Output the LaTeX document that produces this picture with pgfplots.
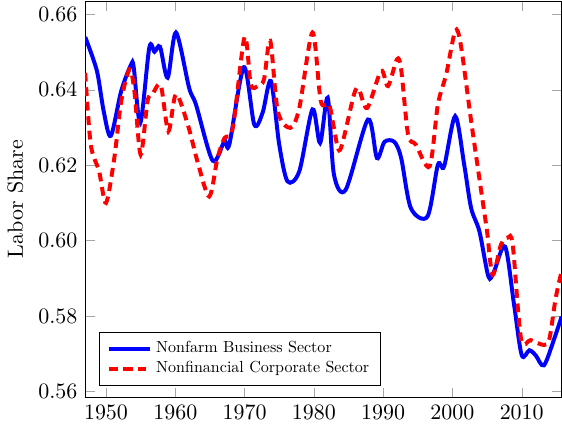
\documentclass[border=0pt]{standalone}
\usepackage{graphicx}
\usepackage{pgfplots}
\pgfplotsset{compat=1.18}

\begin{document}
\begin{tikzpicture}
	\begin{axis}[
			scale only axis,
			width  = 216.8pt,
			height = 180.3pt,
			xmin=1947, xmax=2015.75,
			ymin=0.5584, ymax=0.6635,
			xtick={1950,1960,...,2010},
			ytick={0.56,0.58,...,0.661},
			xticklabel style={/pgf/number format/1000 sep={}},
			yticklabel style={/pgf/number format/fixed,/pgf/number format/fixed zerofill,/pgf/number format/precision=2},
			tick style={gray!70},
			ylabel={Labor Share},
			legend style={at={(0.03,0.03)},anchor=south west,draw=black,row sep=-1.5pt},
			legend image post style={scale=1.1},
			legend cell align=left,
			]
			\addplot[blue,line width=1.8pt,smooth] coordinates {
					(1947.0,0.6540)
					(1948.0,0.6490)
					(1948.8,0.6441)
					(1949.7,0.6340)
					(1950.7,0.6278)
					(1952.2,0.6397)
					(1953.6,0.6466)
					(1954.0,0.6460)
					(1954.95,0.6312)
					(1956.25,0.6512)
					(1957.0,0.6501)
					(1957.8,0.6514)
					(1958.9,0.6432)
					(1960.1,0.6552)
					(1962.0,0.6405)
					(1963.0,0.6360)
					(1965.4,0.6212)
					(1967.1,0.6264)
					(1967.8,0.6255)
					(1969.9,0.6460)
					(1971.4,0.6308)
					(1972.6,0.6339)
					(1973.8,0.6423)
					(1975.0,0.6255)
					(1976.2,0.6157)
					(1977.9,0.6184)
					(1979.8,0.6348)
					(1980.9,0.6259)
					(1982.0,0.6379)
					(1982.9,0.6175)
					(1984.6,0.6135)
					(1987.8,0.6321)
					(1989.1,0.6219)
					(1990.2,0.6262)
					(1991.6,0.6262)
					(1992.6,0.6219)
					(1994.0,0.6086)
					(1996.4,0.6064)
					(1997.9,0.6201)
					(1998.8,0.6197)
					(2000.4,0.6330)
					(2001.7,0.6201)
					(2002.7,0.6086)
					(2003.9,0.6024)
					(2005.2,0.5904)
					(2006.0,0.5918)
					(2007.6,0.5984)
					(2008.9,0.5829)
					(2010.0,0.5696)
					(2011.1,0.5709)
					(2012.0,0.5696)
					(2013.2,0.5669)
					(2014.7,0.5740)
					(2015.75,0.5798)
			};
			\addlegendentry{\scalebox{0.73}{Nonfarm Business Sector}}
			\addplot[red,line width=1.8pt,smooth,dash pattern=on 4pt off 2.6pt] coordinates {
					(1947.0,0.6445)
					(1947.8,0.6255)
					(1949.0,0.6184)
					(1950.0,0.6100)
					(1951.2,0.6219)
					(1952.2,0.6370)
					(1953.4,0.6454)
					(1954.1,0.6396)
					(1955.0,0.6228)
					(1956.0,0.6370)
					(1956.7,0.6388)
					(1957.9,0.6412)
					(1959.0,0.6290)
					(1960.1,0.6388)
					(1961.8,0.6308)
					(1963.2,0.6210)
					(1964.9,0.6117)
					(1966.1,0.6219)
					(1967.1,0.6272)
					(1968.3,0.6299)
					(1970.0,0.6540)
					(1970.9,0.6414)
					(1971.9,0.6410)
					(1972.8,0.6427)
					(1973.7,0.6530)
					(1974.8,0.6343)
					(1976.6,0.6299)
					(1977.9,0.6352)
					(1979.8,0.6552)
					(1981.0,0.6370)
					(1982.2,0.6361)
					(1982.9,0.6299)
					(1983.8,0.6241)
					(1985.8,0.6388)
					(1986.5,0.6401)
					(1987.7,0.6352)
					(1989.7,0.6450)
					(1990.7,0.6410)
					(1992.0,0.6481)
					(1992.6,0.6454)
					(1993.6,0.6281)
					(1994.7,0.6255)
					(1996.7,0.6197)
					(1997.9,0.6361)
					(1999.1,0.6441)
					(2000.4,0.6556)
					(2001.2,0.6520)
					(2002.7,0.6317)
					(2004.4,0.6100)
					(2005.0,0.6024)
					(2005.8,0.5909)
					(2007.0,0.5989)
					(2008.0,0.6008)
					(2008.7,0.5989)
					(2009.9,0.5740)
					(2011.3,0.5736)
					(2013.2,0.5723)
					(2014.0,0.5740)
					(2014.9,0.5847)
					(2015.75,0.5918)
			};
			\addlegendentry{\scalebox{0.73}{Nonfinancial Corporate Sector}}
	\end{axis}
\end{tikzpicture}
\end{document}
